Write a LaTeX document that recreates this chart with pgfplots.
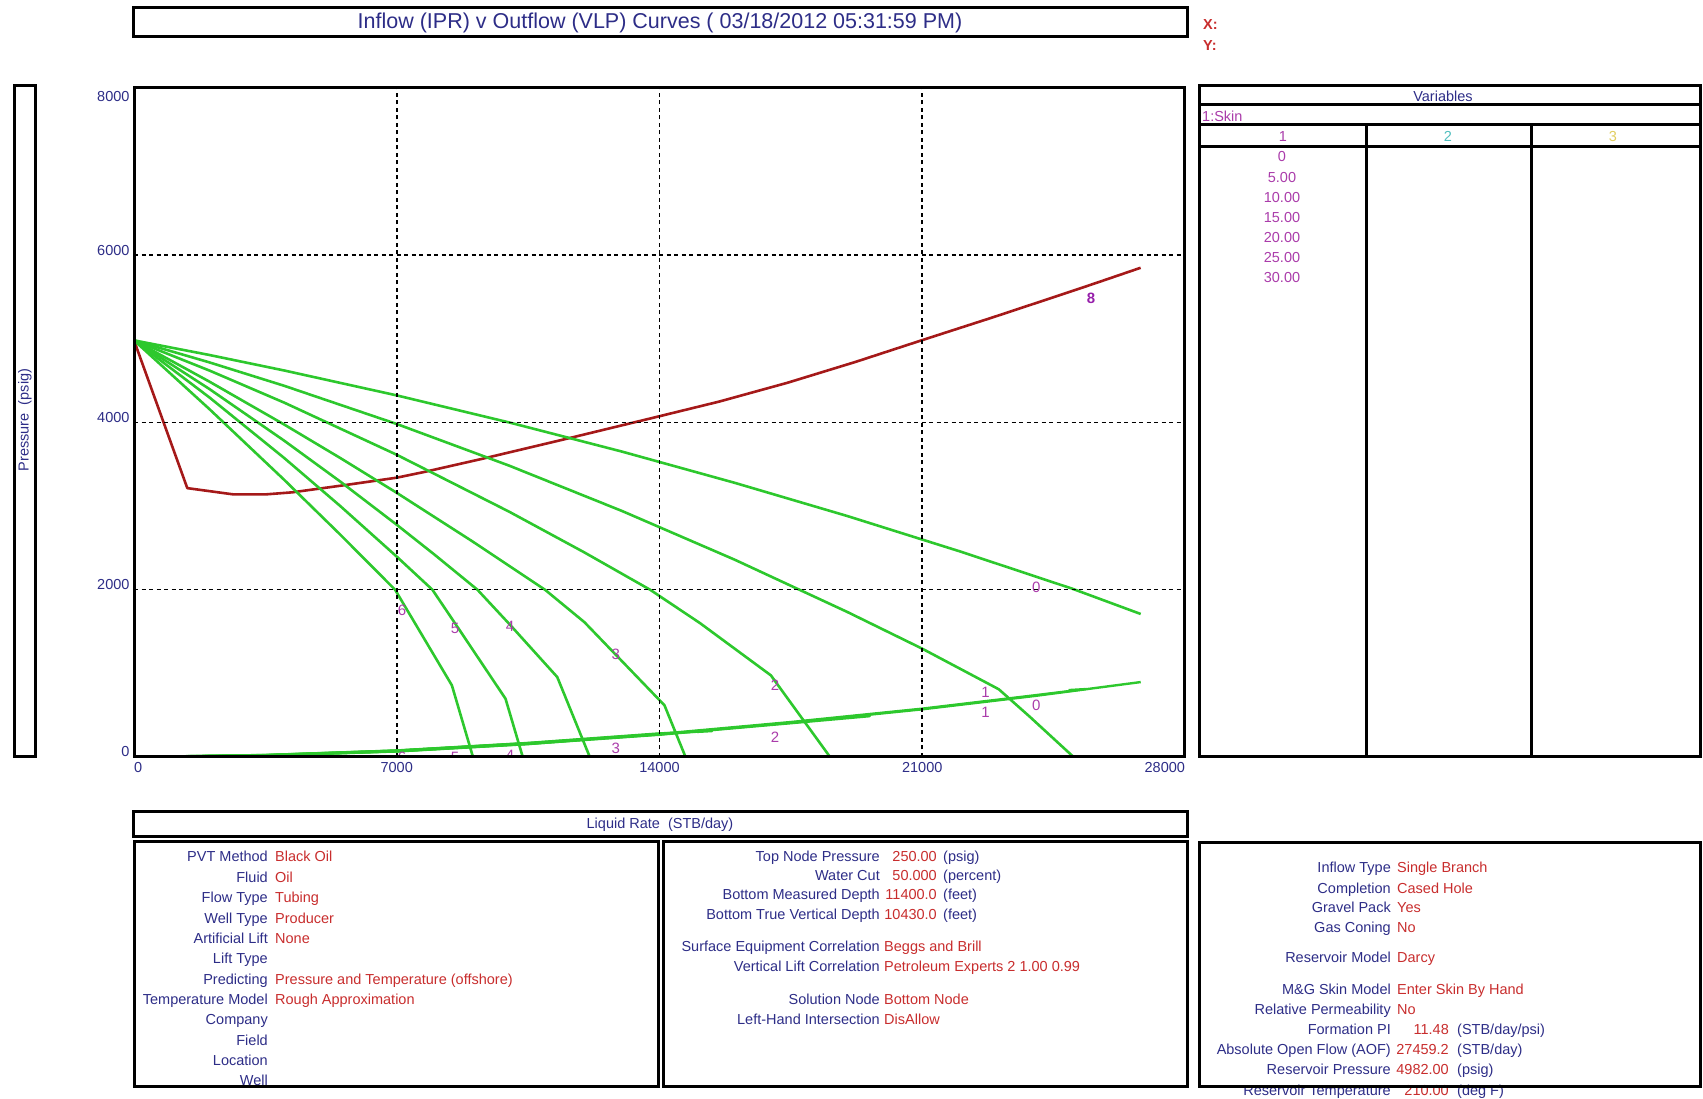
\documentclass[border=0pt]{standalone}
\usepackage{pgfplots}
\pgfplotsset{compat=1.18}
\usepackage{fontspec}
\setmainfont{Liberation Sans}
\definecolor{navy}{RGB}{45,45,135}
\definecolor{valred}{RGB}{200,45,45}
\definecolor{mag}{RGB}{170,60,170}
\definecolor{ipr}{RGB}{45,200,45}
\definecolor{vlp}{RGB}{165,25,25}
\definecolor{teal2}{RGB}{80,190,190}
\definecolor{yel}{RGB}{225,205,95}
\newcommand{\fs}{\fontsize{14.5pt}{17pt}\selectfont}
\newcommand{\lab}[3]{\node[anchor=base east,inner sep=0pt,text=navy,font=\fs] at (#1,#2) {#3};}
\newcommand{\val}[3]{\node[anchor=base west,inner sep=0pt,text=valred,font=\fs] at (#1,#2) {#3};}
\newcommand{\num}[3]{\node[anchor=base east,inner sep=0pt,text=valred,font=\fs] at (#1,#2) {#3};}
\newcommand{\unit}[3]{\node[anchor=base west,inner sep=0pt,text=navy,font=\fs] at (#1,#2) {#3};}
\begin{document}
\begin{tikzpicture}[x=1pt,y=1pt]
\useasboundingbox (0,0) rectangle (1703,1099);
\begin{axis}[
  at={(134pt,342pt)}, anchor=south west,
  scale only axis, width=1051pt, height=669pt,
  xmin=0, xmax=28000, ymin=0, ymax=8000,
  xtick={0,7000,14000,21000,28000},
  ytick={0,2000,4000,6000,8000},
  xticklabels={\rlap{0},7000,14000,21000,\llap{28000}},
  yticklabels={0,2000,4000,6000,\raisebox{-14pt}{8000}},
  scaled ticks=false,
  major tick length=0pt,
  grid=major,
  major grid style={black, line width=1.5pt, dash pattern=on 4pt off 3.5pt},
  axis line style={line width=3pt},
  ticklabel style={font=\fs, text=navy},
  xticklabel style={anchor=north, yshift=-2pt},
  yticklabel style={anchor=base east, xshift=-1pt},
  axis on top=true,
  every axis plot/.append style={line join=round},
]
% VLP (outflow)
\addplot[vlp, line width=2.6pt] coordinates {
 (0,4982) (1420,3215) (2650,3140) (3500,3140) (4220,3165) (5600,3250)
 (7000,3340) (7750,3410) (9300,3568) (11550,3808) (13800,4053)
 (15591,4250) (17409,4475) (19227,4725) (21000,4985) (22864,5255)
 (24682,5525) (25591,5662) (26818,5850)};
% IPR curves, skin 0 ... 30
\addplot[ipr, line width=2.6pt] coordinates {
 (0,4982) (2000,4808) (4000,4622) (7000,4324) (10000,4000) (13000,3652)
 (16000,3279) (19000,2882) (22000,2459) (25000,2012) (26820,1710)};
\addplot[ipr, line width=2.6pt] coordinates {
 (0,4982) (2000,4720) (4000,4439) (7000,3982) (10000,3483) (13000,2942)
 (16000,2360) (19000,1735) (21000,1295) (23039,810) (23873,478) (25031,0)};
\addplot[ipr, line width=2.6pt] coordinates {
 (0,4982) (2000,4623) (4000,4238) (7000,3614) (10000,2932) (12000,2446)
 (13750,2000) (15082,1600) (16968,976) (18544,0)};
\addplot[ipr, line width=2.6pt] coordinates {
 (0,4982) (2000,4491) (4000,3976) (5500,3574) (7000,3159) (9000,2583)
 (10950,2000) (12000,1612) (14133,618) (14694,0)};
\addplot[ipr, line width=2.6pt] coordinates {
 (0,4982) (2000,4403) (4000,3783) (5500,3292) (7000,2777) (8000,2422)
 (9150,2000) (10020,1580) (11276,956) (12143,0)};
\addplot[ipr, line width=2.6pt] coordinates {
 (0,4982) (2000,4303) (4000,3576) (5500,2999) (7000,2396) (7950,2000)
 (8551,1600) (9898,697) (10357,0)};
\addplot[ipr, line width=2.6pt] coordinates {
 (0,4982) (2000,4164) (4000,3315) (5500,2657) (6956,2000) (8469,857) (9031,0)};
% lower curves
\addplot[ipr, line width=2.4pt] coordinates {
 (0,0) (3500,20) (7000,72) (10500,160) (14000,270) (17500,410) (21000,570) (24000,730) (26820,896)};
\addplot[ipr, line width=2.4pt] coordinates {
 (0,0) (3500,22) (7000,76) (10500,166) (14000,276) (17500,418) (21000,578) (24000,738) (25350,812) (24900,800)};
\addplot[ipr, line width=2.4pt] coordinates {
 (0,0) (3500,18) (7000,68) (10500,156) (14000,266) (17500,404) (19600,488) (19100,470)};
\addplot[ipr, line width=2.4pt] coordinates {
 (0,0) (3500,24) (7000,78) (10500,168) (14000,282) (15400,310) (15000,300)};
\addplot[ipr, line width=2.4pt] coordinates {
 (0,0) (3500,16) (7000,66) (10500,154) (12143,212)};
\addplot[ipr, line width=2.4pt] coordinates {
 (0,0) (3500,23) (7000,76) (10357,158)};
\addplot[ipr, line width=2.4pt] coordinates {
 (0,0) (3500,17) (7000,70) (9031,123)};
% labels
\begin{scope}[every node/.style={text=mag, font=\fontsize{15pt}{17pt}\selectfont, inner sep=0pt}]
\node at (axis cs:7143,1753) {6};
\node at (axis cs:8551,1542) {5};
\node at (axis cs:10020,1566) {4};
\node at (axis cs:12837,1223) {3};
\node at (axis cs:17080,857) {2};
\node at (axis cs:22687,769) {1};
\node at (axis cs:24040,2032) {0};
\node at (axis cs:7143,-10) {6};
\node at (axis cs:8551,-5) {5};
\node at (axis cs:10020,20) {4};
\node at (axis cs:12837,108) {3};
\node at (axis cs:17080,239) {2};
\node at (axis cs:22687,530) {1};
\node at (axis cs:24040,618) {0};
\node[text={rgb,255:red,150;green,30;blue,170}, font=\fontsize{15pt}{17pt}\selectfont\bfseries] at (axis cs:25500,5485) {8};
\end{scope}
\end{axis}
\begin{scope}[shift={(0,1099)}, yscale=-1]
% title
\draw[line width=3pt] (133,8) rectangle (1187,37);
\node[text=navy, font=\fontsize{21.5pt}{24pt}\selectfont, inner sep=0pt] at (660,23) {Inflow (IPR) v Outflow (VLP) Curves ( 03/18/2012 05:31:59 PM)};
\node[anchor=base west, inner sep=0pt, text=valred, font=\fs\bfseries] at (1203,30) {X:};
\node[anchor=base west, inner sep=0pt, text=valred, font=\fs\bfseries] at (1203,51) {Y:};
% y label box
\draw[line width=3pt] (14,86) rectangle (35,757);
\node[rotate=90, text=navy, font=\fs, inner sep=0pt] at (25,420) {Pressure\ \ (psig)};
% x label box
\draw[line width=3pt] (133,812) rectangle (1187,837);
\node[text=navy, font=\fs, inner sep=0pt] at (660,824.5) {Liquid Rate\ \ (STB/day)};
% variables panel
\draw[line width=3pt] (1199,86) rectangle (1700,757);
\draw[line width=3pt] (1199,105) -- (1700,105);
\draw[line width=3pt] (1199,125) -- (1700,125);
\draw[line width=3pt] (1199,147) -- (1700,147);
\draw[line width=3pt] (1366,125) -- (1366,757);
\draw[line width=3pt] (1531,125) -- (1531,757);
\node[text=navy, font=\fs, inner sep=0pt] at (1443,96) {Variables};
\node[anchor=west, text=mag, font=\fs, inner sep=0pt] at (1202,116) {1:Skin};
\node[text=mag, font=\fs, inner sep=0pt] at (1283,136.5) {1};
\node[text=teal2, font=\fs, inner sep=0pt] at (1448,136.5) {2};
\node[text=yel, font=\fs, inner sep=0pt] at (1613,136.5) {3};
\node[anchor=base, text=mag, font=\fs, inner sep=0pt] at (1282,162) {0};
\node[anchor=base, text=mag, font=\fs, inner sep=0pt] at (1282,182.5) {5.00};
\node[anchor=base, text=mag, font=\fs, inner sep=0pt] at (1282,202.5) {10.00};
\node[anchor=base, text=mag, font=\fs, inner sep=0pt] at (1282,222.5) {15.00};
\node[anchor=base, text=mag, font=\fs, inner sep=0pt] at (1282,242.5) {20.00};
\node[anchor=base, text=mag, font=\fs, inner sep=0pt] at (1282,262.5) {25.00};
\node[anchor=base, text=mag, font=\fs, inner sep=0pt] at (1282,282.5) {30.00};
% panel 1
\lab{268}{862}{PVT Method} \val{275}{862}{Black Oil}
\lab{268}{882.4}{Fluid} \val{275}{882.4}{Oil}
\lab{268}{902.7}{Flow Type} \val{275}{902.7}{Tubing}
\lab{268}{923.1}{Well Type} \val{275}{923.1}{Producer}
\lab{268}{943.4}{Artificial Lift} \val{275}{943.4}{None}
\lab{268}{963.8}{Lift Type}
\lab{268}{984.2}{Predicting} \val{275}{984.2}{Pressure and Temperature (offshore)}
\lab{268}{1004.5}{Temperature Model} \val{275}{1004.5}{Rough Approximation}
\lab{268}{1024.9}{Company}
\lab{268}{1045.2}{Field}
\lab{268}{1065.6}{Location}
\lab{268}{1086}{Well}
\draw[line width=3pt] (134,842) rectangle (658,1087);
% panel 2
\lab{880}{861.7}{Top Node Pressure} \num{937}{861.7}{250.00} \unit{943}{861.7}{(psig)}
\lab{880}{881}{Water Cut} \num{937}{881}{50.000} \unit{943}{881}{(percent)}
\lab{880}{900}{Bottom Measured Depth} \num{937}{900}{11400.0} \unit{943}{900}{(feet)}
\lab{880}{920}{Bottom True Vertical Depth} \num{937}{920}{10430.0} \unit{943}{920}{(feet)}
\lab{880}{951.7}{Surface Equipment Correlation} \val{884}{951.7}{Beggs and Brill}
\lab{880}{971.7}{Vertical Lift Correlation} \val{884}{971.7}{Petroleum Experts 2 1.00 0.99}
\lab{880}{1004.3}{Solution Node} \val{884}{1004.3}{Bottom Node}
\lab{880}{1025}{Left-Hand Intersection} \val{884}{1025}{DisAllow}
\draw[line width=3pt] (663,842) rectangle (1187,1087);
% panel 3
\lab{1391}{873}{Inflow Type} \val{1397}{873}{Single Branch}
\lab{1391}{893.5}{Completion} \val{1397}{893.5}{Cased Hole}
\lab{1391}{913}{Gravel Pack} \val{1397}{913}{Yes}
\lab{1391}{933}{Gas Coning} \val{1397}{933}{No}
\lab{1391}{963}{Reservoir Model} \val{1397}{963}{Darcy}
\lab{1391}{995}{M\&G Skin Model} \val{1397}{995}{Enter Skin By Hand}
\lab{1391}{1015}{Relative Permeability} \val{1397}{1015}{No}
\lab{1391}{1035}{Formation PI} \num{1449}{1035}{11.48} \unit{1457}{1035}{(STB/day/psi)}
\lab{1391}{1055}{Absolute Open Flow (AOF)} \num{1449}{1055}{27459.2} \unit{1457}{1055}{(STB/day)}
\lab{1391}{1075}{Reservoir Pressure} \num{1449}{1075}{4982.00} \unit{1457}{1075}{(psig)}
\lab{1391}{1096}{Reservoir Temperature} \num{1449}{1096}{210.00} \unit{1457}{1096}{(deg F)}
\draw[line width=3pt] (1199,843) rectangle (1700,1087);
\end{scope}
\end{tikzpicture}
\end{document}
